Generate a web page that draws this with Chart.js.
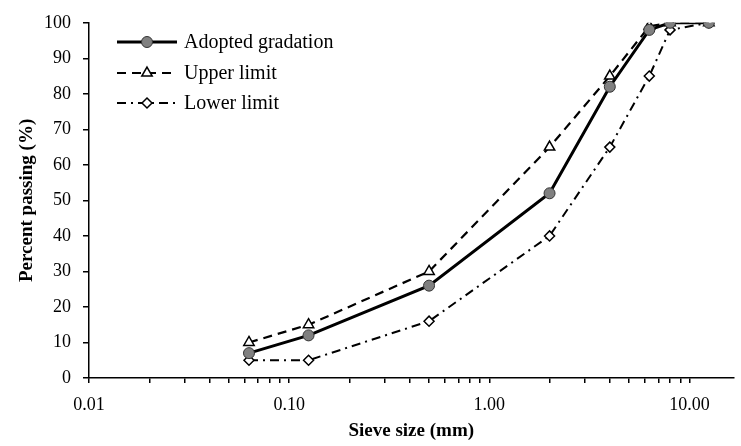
<!DOCTYPE html>
<html>
<head>
<meta charset="utf-8">
<script src="https://cdn.jsdelivr.net/npm/chart.js@4/dist/chart.umd.min.js"></script>
<style>
  html, body { margin: 0; padding: 0; background: #fff; }
  #wrap { width: 741px; height: 446px; position: relative; }
</style>
</head>
<body>
<div id="wrap"><canvas id="chart"></canvas></div>
<script>
// sieve sizes (mm) and percent passing
const sieveSizes = [0.063, 0.125, 0.5, 2, 4, 6.3, 8, 12.5];
const adopted = [7, 12, 26, 52, 82, 98, 100, 100];
const upperLimit = [10, 15, 30, 65, 85, 99, 100, 100];
const lowerLimit = [5, 5, 16, 40, 65, 85, 98, 100];
const seriesNames = ['Adopted gradation', 'Upper limit', 'Lower limit'];
const xMin = 0.01;
const xMax = 16.6;

const FONT = '"Liberation Serif", "DejaVu Serif", serif';

function toPoints(values) {
    return sieveSizes.map((s, i) => ({ x: s, y: values[i] }));
}

// legend drawn by hand: line sample + marker + text
const legendPlugin = {
    id: 'lineLegend',
    afterDraw(chart) {
        const ctx = chart.ctx;
        const rows = [42, 73, 103];
        chart.data.datasets.forEach((ds, i) => {
            const y = rows[i];
            ctx.save();
            ctx.strokeStyle = ds.borderColor;
            ctx.lineWidth = ds.borderWidth;
            ctx.setLineDash(ds.borderDash || []);
            ctx.beginPath();
            ctx.moveTo(117, y);
            ctx.lineTo(177, y);
            ctx.stroke();
            ctx.setLineDash([]);
            ctx.fillStyle = ds.pointBackgroundColor;
            ctx.strokeStyle = ds.pointBorderColor;
            ctx.lineWidth = ds.pointBorderWidth;
            Chart.helpers.drawPoint(ctx, {
                pointStyle: ds.pointStyle,
                radius: ds.pointRadius,
                rotation: 0,
                borderWidth: ds.pointBorderWidth
            }, 147, y);
            ctx.fillStyle = '#000';
            ctx.font = '20px ' + FONT;
            ctx.textBaseline = 'middle';
            ctx.textAlign = 'left';
            ctx.fillText(ds.label, 184, y + 1);
            ctx.restore();
        });
    }
};

new Chart(document.getElementById('chart'), {
    type: 'line',
    data: {
        datasets: [
            {
                label: seriesNames[0],
                data: toPoints(adopted),
                borderColor: '#000',
                borderWidth: 3,
                pointStyle: 'circle',
                pointRadius: 5.5,
                pointBackgroundColor: '#808080',
                pointBorderColor: '#333',
                pointBorderWidth: 1,
                tension: 0,
                order: 0
            },
            {
                label: seriesNames[1],
                data: toPoints(upperLimit),
                borderColor: '#000',
                borderWidth: 2.2,
                borderDash: [9, 6],
                pointStyle: 'triangle',
                pointRadius: 6,
                pointBackgroundColor: '#fff',
                pointBorderColor: '#000',
                pointBorderWidth: 1.5,
                tension: 0,
                order: 1
            },
            {
                label: seriesNames[2],
                data: toPoints(lowerLimit),
                borderColor: '#000',
                borderWidth: 2,
                borderDash: [9, 5, 2, 5],
                pointStyle: 'rectRot',
                pointRadius: 5,
                pointBackgroundColor: '#fff',
                pointBorderColor: '#000',
                pointBorderWidth: 1.5,
                tension: 0,
                order: 2
            }
        ]
    },
    options: {
        responsive: true,
        maintainAspectRatio: false,
        animation: false,
        layout: { padding: { top: 20, right: 0, left: 0, bottom: 0 } },
        plugins: {
            legend: { display: false },
            tooltip: { enabled: false }
        },
        scales: {
            x: {
                type: 'logarithmic',
                min: xMin,
                max: xMax,
                afterBuildTicks(scale) {
                    const ticks = [];
                    for (let p = -2; p <= 1; p++) {
                        for (let m = 1; m <= 9; m++) {
                            const v = m * Math.pow(10, p);
                            if (v >= xMin - 1e-9 && v <= xMax) ticks.push({ value: v });
                        }
                    }
                    scale.ticks = ticks;
                },
                afterFit(scale) { scale.height = 68; },
                ticks: {
                    autoSkip: false,
                    maxRotation: 0,
                    padding: 11,
                    color: '#000',
                    font: { family: FONT, size: 18 },
                    callback(value) {
                        const lg = Math.log10(value);
                        if (Math.abs(lg - Math.round(lg)) < 1e-6) return value.toFixed(2);
                        return '';
                    }
                },
                grid: {
                    drawOnChartArea: false,
                    drawTicks: true,
                    tickLength: 5,
                    color: '#000',
                    lineWidth: 1.5
                },
                border: { color: '#000', width: 1.5 },
                title: {
                    display: true,
                    text: 'Sieve size (mm)',
                    color: '#000',
                    font: { family: FONT, size: 19, weight: 'bold' },
                    padding: { top: 0 }
                }
            },
            y: {
                min: 0,
                max: 100,
                afterFit(scale) { scale.width = 89; },
                ticks: {
                    stepSize: 10,
                    padding: 12,
                    color: '#000',
                    font: { family: FONT, size: 18 }
                },
                grid: {
                    drawOnChartArea: false,
                    drawTicks: true,
                    tickLength: 6,
                    color: '#000',
                    lineWidth: 1.5
                },
                border: { color: '#000', width: 1.5 },
                title: {
                    display: true,
                    text: 'Percent passing (%)',
                    color: '#000',
                    font: { family: FONT, size: 19, weight: 'bold' },
                    padding: { top: 16, bottom: 0 }
                }
            }
        }
    },
    plugins: [legendPlugin]
});
</script>
</body>
</html>
